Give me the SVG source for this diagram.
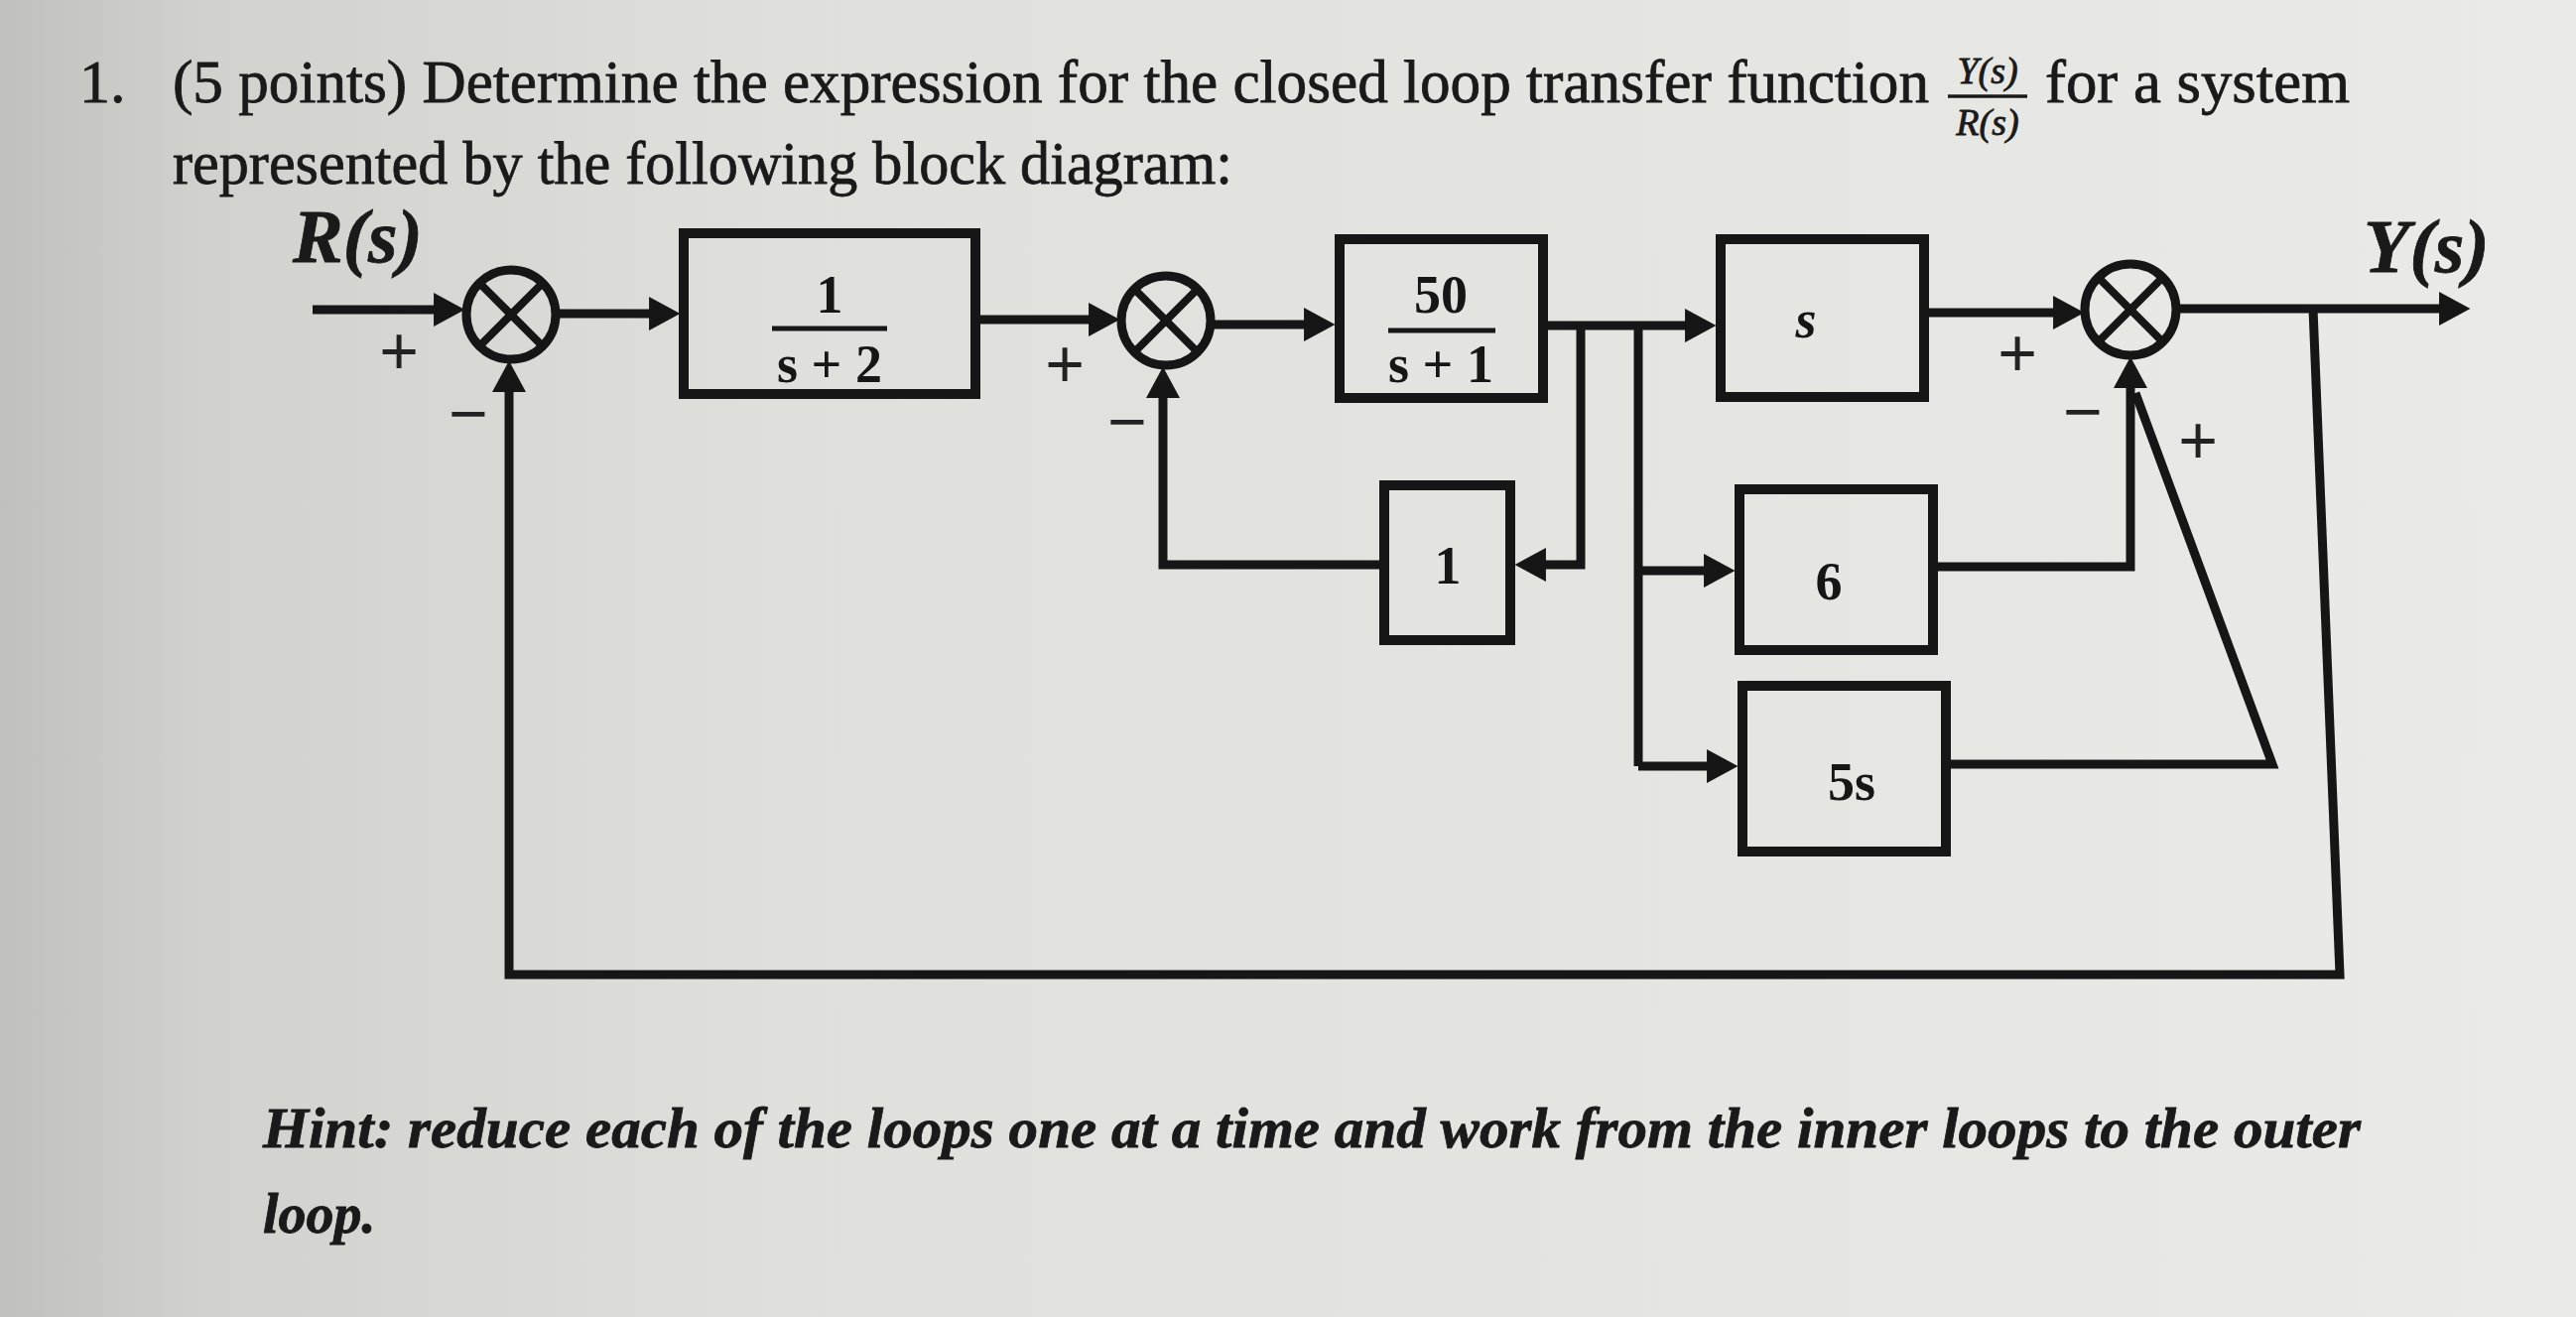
<svg xmlns="http://www.w3.org/2000/svg" width="2596" height="1327" viewBox="0 0 2596 1327">
<defs>
<linearGradient id="bg" x1="0" y1="0" x2="1" y2="0">
<stop offset="0" stop-color="#c0c1bc"/>
<stop offset="0.08" stop-color="#d1d2cd"/>
<stop offset="0.3" stop-color="#dfe0db"/>
<stop offset="1" stop-color="#eaebe8"/>
</linearGradient>
<marker id="arr" markerUnits="userSpaceOnUse" markerWidth="34" markerHeight="34" viewBox="0 0 24 26" refX="3" refY="13" orient="auto">
<path d="M0,0 L24,13 L0,26 z" fill="#161616"/>
</marker>
<style>
.blk{fill:none;stroke:#161616;stroke-width:10}
.sum circle{fill:none;stroke:#161616;stroke-width:9}
.sum line{stroke:#161616;stroke-width:8}
.w{fill:none;stroke:#161616;stroke-width:9;stroke-linejoin:miter}
.wa{fill:none;stroke:#161616;stroke-width:9;marker-end:url(#arr)}
.t{font-family:"Liberation Serif",serif;fill:#1a1a1a;stroke:#1a1a1a;stroke-width:0.8}
.bt{font-family:"Liberation Serif",serif;font-weight:bold;font-size:54px;fill:#161616;text-anchor:middle}
.sg{font-family:"Liberation Sans",sans-serif;font-size:68px;fill:#222;text-anchor:middle}
</style>
</defs>
<rect width="2596" height="1327" fill="url(#bg)"/>

<g id="question">
<text class="t" x="80" y="103" font-size="62">1.</text>
<text class="t" x="174" y="103" font-size="62" textLength="1770" lengthAdjust="spacingAndGlyphs">(5 points) Determine the expression for the closed loop transfer function</text>
<text class="t" x="2003" y="84" font-size="38" font-style="italic" text-anchor="middle">Y(s)</text>
<line x1="1963" y1="97" x2="2043" y2="97" stroke="#1a1a1a" stroke-width="3.5"/>
<text class="t" x="2003" y="136" font-size="38" font-style="italic" text-anchor="middle">R(s)</text>
<text class="t" x="2061" y="103" font-size="62" textLength="307" lengthAdjust="spacingAndGlyphs">for a system</text>
<text class="t" x="174" y="185" font-size="62" textLength="1068" lengthAdjust="spacingAndGlyphs">represented by the following block diagram:</text>
</g>

<g id="labels">
<text class="t" x="295" y="264" font-size="76" font-weight="bold" font-style="italic">R(s)</text>
<text class="t" x="2382" y="274" font-size="76" font-weight="bold" font-style="italic">Y(s)</text>
<text class="sg" x="402" y="377">+</text>
<text class="sg" x="472" y="440">−</text>
<text class="sg" x="1073" y="390">+</text>
<text class="sg" x="1136" y="448">−</text>
<text class="sg" x="2033" y="379">+</text>
<text class="sg" x="2099" y="438">−</text>
<text class="sg" x="2215" y="467">+</text>
</g>

<g id="connectors">
<line class="wa" x1="315" y1="312" x2="441" y2="312"/>
<line class="wa" x1="561" y1="316" x2="658" y2="316"/>
<line class="wa" x1="983" y1="322" x2="1101" y2="322"/>
<line class="wa" x1="1221" y1="327" x2="1318" y2="327"/>
<line class="wa" x1="1555" y1="328" x2="1702" y2="328"/>
<polyline class="wa" points="1593,328 1593,569 1554,569"/>
<polyline class="wa" points="1395,569 1172,569 1172,397"/>
<polyline class="w" points="1651,328 1651,772"/>
<line class="wa" x1="1651" y1="575" x2="1721" y2="575"/>
<line class="wa" x1="1651" y1="772" x2="1724" y2="772"/>
<line class="wa" x1="1939" y1="315" x2="2073" y2="315"/>
<polyline class="wa" points="1948,571 2147,571 2147,387"/>
<polyline class="w" points="1961,770 2290,770 2152,396"/>
<line class="wa" x1="2193" y1="311" x2="2462" y2="311"/>
<polyline class="wa" points="2331,311 2358,982 513,982 513,391"/>
</g>

<g id="sum1" class="sum">
<circle cx="515" cy="317" r="45"/>
<line x1="484" y1="286" x2="546" y2="348"/>
<line x1="546" y1="286" x2="484" y2="348"/>
</g>
<g id="sum2" class="sum">
<circle cx="1175" cy="323" r="45"/>
<line x1="1144" y1="292" x2="1206" y2="354"/>
<line x1="1206" y1="292" x2="1144" y2="354"/>
</g>
<g id="sum3" class="sum">
<circle cx="2147" cy="312" r="46"/>
<line x1="2115" y1="280" x2="2179" y2="344"/>
<line x1="2179" y1="280" x2="2115" y2="344"/>
</g>

<g id="block-1-over-s2">
<rect class="blk" x="689" y="235" width="294" height="162"/>
<text class="bt" x="836" y="315">1</text>
<line x1="778" y1="331" x2="894" y2="331" stroke="#161616" stroke-width="5"/>
<text class="bt" x="836" y="385">s + 2</text>
</g>
<g id="block-50-over-s1">
<rect class="blk" x="1350" y="241" width="205" height="160"/>
<text class="bt" x="1452" y="315">50</text>
<line x1="1399" y1="333" x2="1507" y2="333" stroke="#161616" stroke-width="5"/>
<text class="bt" x="1452" y="385">s + 1</text>
</g>
<g id="block-s">
<rect class="blk" x="1734" y="241" width="205" height="159"/>
<text class="bt" x="1820" y="340" font-style="italic">s</text>
</g>
<g id="block-1">
<rect class="blk" x="1395" y="489" width="127" height="156"/>
<text class="bt" x="1459" y="588">1</text>
</g>
<g id="block-6">
<rect class="blk" x="1753" y="493" width="195" height="162"/>
<text class="bt" x="1843" y="604">6</text>
</g>
<g id="block-5s">
<rect class="blk" x="1756" y="691" width="205" height="167"/>
<text class="bt" x="1866" y="806">5s</text>
</g>

<g id="hint">
<text class="t" x="265" y="1156" font-size="56" font-weight="bold" font-style="italic" textLength="2114" lengthAdjust="spacingAndGlyphs">Hint: reduce each of the loops one at a time and work from the inner loops to the outer</text>
<text class="t" x="265" y="1242" font-size="56" font-weight="bold" font-style="italic">loop.</text>
</g>
</svg>
